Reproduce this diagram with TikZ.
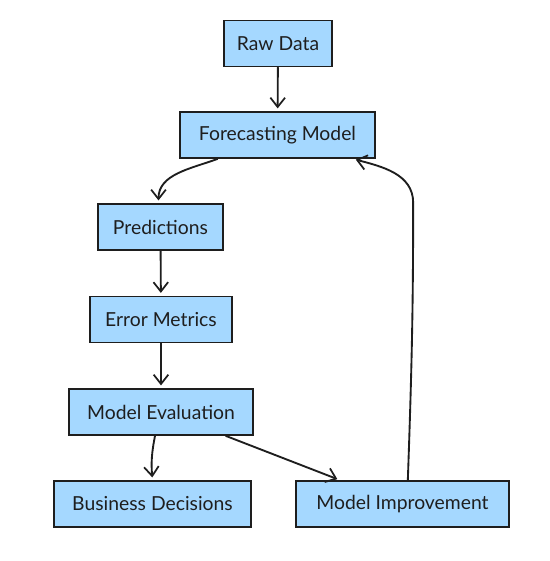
\documentclass[tikz,border=0pt]{standalone}
\usepackage{fontspec}
\setmainfont{Lato}
\usetikzlibrary{arrows.meta}
\definecolor{boxblue}{HTML}{A5D8FF}
\definecolor{ink}{HTML}{1E1E1E}
\tikzset{
  stage/.style={draw=ink, fill=boxblue, line width=1.4pt, minimum height=34.5pt,
    inner sep=2pt, text=ink, font=\fontsize{14.5}{16}\selectfont},
  flow/.style={draw=ink, line width=1.4pt, line cap=round,
    -{Straight Barb[length=7pt,width=11pt,line width=1.3pt]}, shorten >=2pt}
}
\begin{document}
\begin{tikzpicture}[x=0.75pt, y=-0.75pt]
  \useasboundingbox (0,0) rectangle (550,561);
  % boxes
  \node[stage, minimum width=81pt]     (raw)      at (278,43.5)  {Raw Data};
  \node[stage, minimum width=146.25pt] (forecast) at (277.5,135) {Forecasting Model};
  \node[stage, minimum width=93.75pt]  (predict)  at (160.5,227) {Predictions};
  \node[stage, minimum width=106.5pt]  (errors)   at (161,319.5) {Error Metrics};
  \node[stage, minimum width=138pt]    (eval)     at (161,412)   {Model Evaluation};
  \node[stage, minimum width=147.75pt] (business) at (152.5,504) {Business Decisions};
  \node[stage, minimum width=159.75pt] (improve)  at (402.5,504) {Model Improvement};
  % arrows
  \draw[flow] (raw) -- (forecast);
  \draw[flow] ([xshift=-45pt]forecast.south) to[out=200,in=90] ([xshift=-1.5pt]predict.north);
  \draw[flow] (predict) -- (errors);
  \draw[flow] (errors) -- (eval);
  \draw[flow] ([xshift=-4.5pt]eval.south) to[bend right=8] (business.north);
  \draw[flow] ([xshift=-21pt]eval.south east) -- ([xshift=-47pt]improve.north);
  \draw[flow] ([xshift=4pt]improve.north) to[out=88,in=-90] ++(4pt,208pt)
    to[out=90,in=-15] ([xshift=-17pt]forecast.south east);
\end{tikzpicture}
\end{document}
